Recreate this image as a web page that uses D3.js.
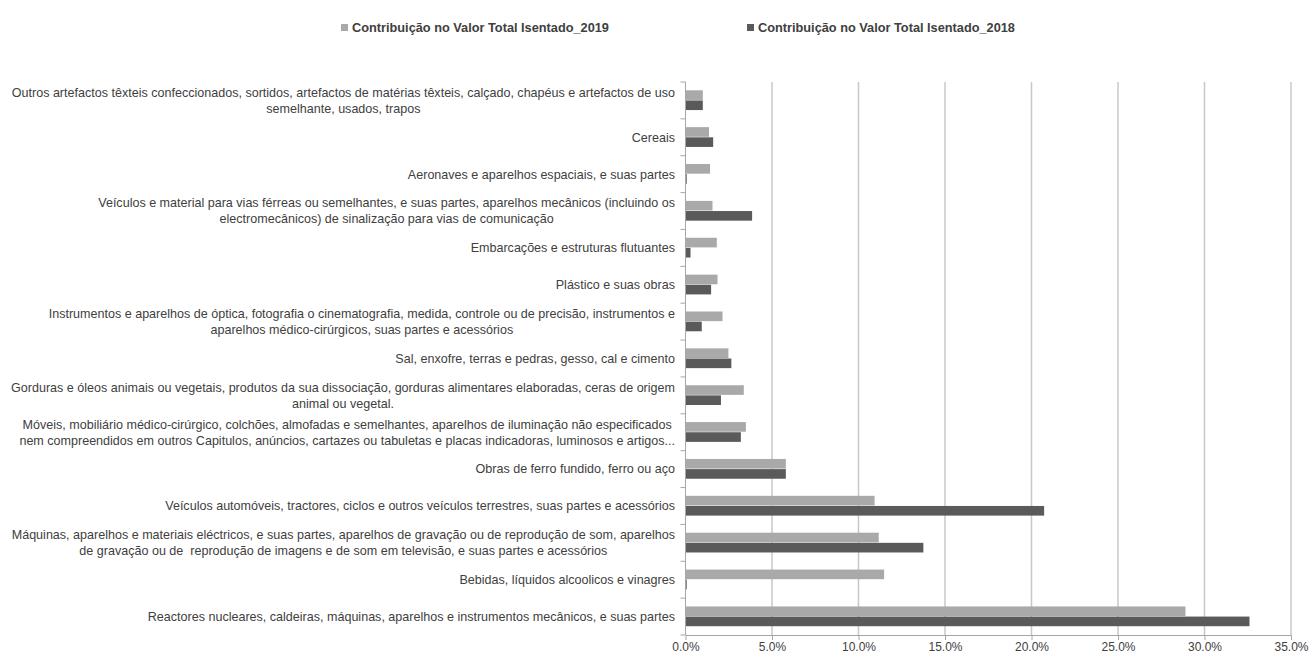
<!DOCTYPE html>
<html><head><meta charset="utf-8">
<script src="https://cdn.jsdelivr.net/npm/d3@7"></script>
<style>body{margin:0;background:#fff}svg{display:block}</style>
</head><body>
<svg id="chart" width="1314" height="664"></svg>
<script>
const categories = [
 "Outros artefactos têxteis confeccionados, sortidos, artefactos de matérias têxteis, calçado, chapéus e artefactos de uso\nsemelhante, usados, trapos",
 "Cereais",
 "Aeronaves e aparelhos espaciais, e suas partes",
 "Veículos e material para vias férreas ou semelhantes, e suas partes, aparelhos mecânicos (incluindo os\nelectromecânicos) de sinalização para vias de comunicação",
 "Embarcações e estruturas flutuantes",
 "Plástico e suas obras",
 "Instrumentos e aparelhos de óptica, fotografia o cinematografia, medida, controle ou de precisão, instrumentos e\naparelhos médico-cirúrgicos, suas partes e acessórios",
 "Sal, enxofre, terras e pedras, gesso, cal e cimento",
 "Gorduras e óleos animais ou vegetais, produtos da sua dissociação, gorduras alimentares elaboradas, ceras de origem\nanimal ou vegetal.",
 "Móveis, mobiliário médico-cirúrgico, colchões, almofadas e semelhantes, aparelhos de iluminação não especificados\nnem compreendidos em outros Capitulos, anúncios, cartazes ou tabuletas e placas indicadoras, luminosos e artigos...",
 "Obras de ferro fundido, ferro ou aço",
 "Veículos automóveis, tractores, ciclos e outros veículos terrestres, suas partes e acessórios",
 "Máquinas, aparelhos e materiais eléctricos, e suas partes, aparelhos de gravação ou de reprodução de som, aparelhos\nde gravação ou de  reprodução de imagens e de som em televisão, e suas partes e acessórios",
 "Bebidas, líquidos alcoolicos e vinagres",
 "Reactores nucleares, caldeiras, máquinas, aparelhos e instrumentos mecânicos, e suas partes"
];
const seriesNames = ["Contribuição no Valor Total Isentado_2019", "Contribuição no Valor Total Isentado_2018"];
const values2019 = [1.0, 1.36, 1.42, 1.56, 1.81, 1.85, 2.14, 2.48, 3.37, 3.49, 5.8, 10.93, 11.17, 11.48, 28.9];
const values2018 = [1.0, 1.6, 0.07, 3.85, 0.29, 1.48, 0.94, 2.65, 2.05, 3.2, 5.8, 20.73, 13.75, 0.07, 32.6];
const xTicks = [0, 5, 10, 15, 20, 25, 30, 35];

const colors = ["#a9a9a9", "#5a5a5a"];
const svg = d3.select("#chart");
const pLeft = 685.5, pRight = 1291, pTop = 82, pBottom = 635;
const fontFam = "'Liberation Sans', Arial, sans-serif";

const x = d3.scaleLinear().domain([0, 35]).range([pLeft, pRight]);
const y = d3.scaleBand().domain(categories).range([pTop, pBottom]).paddingInner(0.45).paddingOuter(0.225);
const sub = d3.scaleBand().domain(seriesNames).range([0, y.bandwidth()]);

// gridlines
svg.append("g").selectAll("line").data(xTicks.slice(1)).join("line")
  .attr("x1", d => x(d)).attr("x2", d => x(d)).attr("y1", pTop).attr("y2", pBottom)
  .attr("stroke", "#c8c8c8").attr("stroke-width", 1.5);

// bars
const data = categories.map((c, i) => ({c, vals: [values2019[i], values2018[i]]}));
const g = svg.append("g");
data.forEach(d => {
  d.vals.forEach((v, j) => {
    g.append("rect")
      .attr("x", x(0)).attr("y", y(d.c) + sub(seriesNames[j]))
      .attr("width", x(v) - x(0)).attr("height", sub.bandwidth() - 0.5)
      .attr("fill", colors[j]);
  });
});

// axes
const xAxis = d3.axisBottom(x).tickValues(xTicks).tickFormat(d => d.toFixed(1) + "%").tickSize(5).tickSizeOuter(0);
const gx = svg.append("g").attr("transform", `translate(0,${pBottom})`).call(xAxis);
gx.select(".domain").attr("stroke", "#a6a6a6");
gx.selectAll(".tick line").attr("stroke", "#a6a6a6");
gx.selectAll(".tick text").attr("font-family", fontFam).attr("font-size", 12)
  .attr("fill", "#404040").attr("y", 7).attr("dy", "0.71em");

// y axis line and ticks between categories
svg.append("line").attr("x1", pLeft).attr("x2", pLeft).attr("y1", pTop).attr("y2", pBottom).attr("stroke", "#a6a6a6");
svg.append("g").selectAll("line").data(d3.range(categories.length + 1)).join("line")
  .attr("x1", pLeft - 5).attr("x2", pLeft).attr("y1", i => pTop + i * (pBottom - pTop) / categories.length)
  .attr("y2", i => pTop + i * (pBottom - pTop) / categories.length).attr("stroke", "#a6a6a6");

// category labels (font size fitted so the longest line spans like the reference)
const labelRight = 675;
const lineH = 16;
const lg = svg.append("g").attr("font-family", fontFam).attr("font-size", 11).attr("fill", "#404040");
const probe = lg.append("text").text(categories[0].split("\n")[0]);
const fitSize = 11 * 664 / probe.node().getComputedTextLength();
probe.remove();
lg.attr("font-size", fitSize);
categories.forEach(c => {
  const lines = c.split("\n");
  const cy = y(c) + y.bandwidth() / 2;
  const t = lg.append("text").attr("xml:space", "preserve");
  const tspans = lines.map((ln, k) => t.append("tspan").text(ln)
      .attr("y", cy + (k - (lines.length - 1) / 2) * lineH).attr("dy", "0.35em"));
  const widths = tspans.map(s => s.node().getComputedTextLength());
  const maxW = d3.max(widths);
  if (lines.length === 1) {
    tspans[0].attr("x", labelRight).attr("text-anchor", "end");
  } else {
    tspans.forEach(s => s.attr("x", labelRight - maxW / 2).attr("text-anchor", "middle"));
  }
});

// legend
const legendX = [341, 747];
const leg = svg.append("g").attr("font-family", fontFam).attr("font-size", 10).attr("font-weight", "bold").attr("fill", "#404040");
const lprobe = leg.append("text").text(seriesNames[0]);
const legSize = 10 * 257 / lprobe.node().getComputedTextLength();
lprobe.remove();
leg.attr("font-size", legSize);
seriesNames.forEach((n, j) => {
  leg.append("rect").attr("x", legendX[j]).attr("y", 24).attr("width", 7).attr("height", 7).attr("fill", colors[j]);
  leg.append("text").attr("x", legendX[j] + 11).attr("y", 27.5).attr("dy", "0.35em").text(n);
});
</script>
</body></html>
